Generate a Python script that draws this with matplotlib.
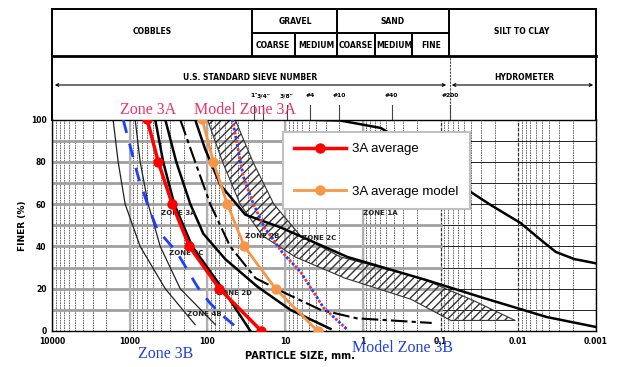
import matplotlib.pyplot as plt
import matplotlib.transforms as mtransforms

# overlaid gradation curves (particle size mm, percent finer)
pct_3a = [100, 80, 60, 40, 20, 0]
size_3a = [596, 430, 284, 171, 70, 20.2]
size_3a_model = [116.5, 84, 55.5, 33.5, 13.3, 3.83]

pct_3b = [100, 73, 59, 48, 37, 21, 13, 7, 1]
size_3b = [1216, 778, 579, 443, 245, 135, 91.8, 62.5, 40]
pct_3b_model = [100, 73, 60, 49, 37, 28, 11, 0.5]
size_3b_model = [47.8, 34.5, 25.6, 18.5, 10.8, 6.35, 3.2, 1.57]

# curves printed on the scanned sheet
pct_thin = [100, 80, 60, 40, 20, 3]
size_thin1 = [1637, 1409, 1145, 734, 349, 144]
size_thin2 = [851, 734, 579, 405, 224, 79]
pct_k1 = [100, 80, 60, 40, 20, 0]
size_k1 = [470, 371, 267, 157, 64, 28]
pct_k2 = [100, 80, 60, 46, 34, 21, 10, 1]
size_k2 = [349, 252, 166, 113, 59, 22.8, 8.55, 2.61]
pct_1b = [100, 86, 69, 55, 49, 35, 24, 16, 6.6, 1.9]
size_1b = [144, 107, 68, 32.5, 11.5, 1.58, 0.15, 0.0303, 0.0043, 0.001]
pct_1a = [100, 99.5, 96, 85, 68.6, 59.6, 51, 43, 37.4, 34, 32]
size_1a = [6.35, 1.94, 0.59, 0.18, 0.054, 0.0227, 0.0093, 0.0051, 0.0033, 0.0019, 0.001]
pct_2d = [100, 80, 60, 40, 25, 19, 10, 6, 3.8]
size_2d = [224, 144, 92, 51, 24, 11.5, 3.5, 1.2, 0.13]
pct_band = [100, 80, 60, 45, 35, 25, 15, 5]
size_band_coarse = [100, 64, 38, 19.5, 7.4, 1.7, 0.24, 0.074]
size_band_fine = [44, 26, 14, 6.35, 1.94, 0.18, 0.041, 0.011]

zone_labels = ['ZONE 3A', 'ZONE 3C', 'ZONE 2B', 'ZONE 2C', 'ZONE 2D', 'ZONE 4B', 'ZONE 1A']
zone_label_size = [240, 190, 19.5, 3.7, 45, 110, 0.6]
zone_label_pct = [56, 37, 45, 44, 18, 8, 56]

sieve_labels = ['1"', '3/4"', '3/8"', '#4', '#10', '#40', '#200']
sieve_size = [25.4, 19.0, 9.5, 4.75, 2.0, 0.425, 0.075]

x_ticks = [10000, 1000, 100, 10, 1, 0.1, 0.01, 0.001]
x_ticklabels = ['10000', '1000', '100', '10', '1', '0.1', '0.01', '0.001']

fig = plt.figure(figsize=(6.17, 3.67), dpi=100)
ax = fig.add_axes([52 / 617, 36 / 367, 544 / 617, 211.5 / 367])
ax.set_xscale('log')
ax.set_xlim(10000, 0.001)
ax.set_ylim(0, 100)

# scanned grid
for d in [1000, 100, 10, 1, 0.1, 0.01, 0.001, 0.0001]:
    for m in range(2, 10):
        ax.axvline(d * m, color='#555555', lw=0.6, ls=(0, (2, 1)), zorder=1)
    ax.axvline(d * 10, color='#333333', lw=0.9, ls=(0, (3, 1)), zorder=1)
for p in range(10, 100, 10):
    ax.axhline(p, color='#222222', lw=0.7, zorder=1)
    ax.plot([10000, 0.1], [p, p], color='#a0a0a0', lw=2.0, zorder=1.5)
for d in [1000, 100, 10, 1]:
    ax.plot([d, d], [0, 100], color='#b0b0b0', lw=1.6, zorder=1.5)

# scanned curves
ax.fill_betweenx(pct_band, size_band_coarse, size_band_fine, facecolor='none',
                 edgecolor='#333333', hatch='////', lw=0.8, zorder=2)
ax.plot(size_thin1, pct_thin, color='#222222', lw=0.9, zorder=2)
ax.plot(size_thin2, pct_thin, color='#222222', lw=0.9, zorder=2)
ax.plot(size_k1, pct_k1, color='black', lw=1.8, zorder=2)
ax.plot(size_k2, pct_k2, color='black', lw=1.8, zorder=2)
ax.plot(size_1b, pct_1b, color='black', lw=1.8, zorder=2)
ax.plot(size_1a, pct_1a, color='black', lw=1.8, zorder=2)
ax.plot(size_2d, pct_2d, color='black', lw=1.5, ls=(0, (8, 2, 2, 2)), zorder=2)
for lab, s, p in zip(zone_labels, zone_label_size, zone_label_pct):
    ax.text(s, p, lab, fontsize=5, fontweight='bold', color='#222222',
            ha='center', va='center', zorder=2.5)

# overlays
ax.plot(size_3b, pct_3b, color='#1f3fff', lw=2, ls=(0, (5, 4)), zorder=3)
ax.plot(size_3b_model, pct_3b_model, color='#1f3fff', lw=2, ls=(0, (1, 2)), zorder=3)
ax.plot(size_3b_model, pct_3b_model, color='#ff3030', lw=2, ls=(1.5, (1, 2)), zorder=3)
ax.plot(size_3a, pct_3a, color='#ff0000', lw=2.5, marker='o', ms=6.5,
        label='3A average', zorder=4)
ax.plot(size_3a_model, pct_3a, color='#f79646', lw=2, marker='o', ms=6.5,
        label='3A average model', zorder=4)

leg = ax.legend(loc='upper left', bbox_to_anchor=(0.4246, 0.941), borderaxespad=0,
                frameon=True, fancybox=False, edgecolor='#c0c0c0', framealpha=1,
                prop={'family': 'Liberation Sans', 'size': 9.5},
                labelspacing=2.3, handlelength=3.9, borderpad=0.85, handletextpad=0.5)
leg.get_frame().set_linewidth(1.5)
leg.set_zorder(5)

ax.set_yticks([0, 20, 40, 60, 80, 100])
ax.set_yticklabels(['0', '20', '40', '60', '80', '100'], fontsize=5.5, fontweight='bold')
ax.set_xticks(x_ticks)
ax.set_xticklabels(x_ticklabels, fontsize=5.5, fontweight='bold')
ax.minorticks_off()
ax.tick_params(length=0, pad=4)
for sp in ax.spines.values():
    sp.set_linewidth(1.0)

# sieve marks above the plot
trans = mtransforms.blended_transform_factory(ax.transData, ax.transAxes)
for lab, s in zip(sieve_labels, sieve_size):
    ax.plot([s, s], [1.0, 1.07], color='#444444', lw=0.8, transform=trans, clip_on=False)
    ax.text(s, 1.1, lab, fontsize=4.3, fontweight='bold', ha='center', va='bottom',
            transform=trans)
ax.plot([0.075, 0.075], [1.0, 1.3], color='#444444', lw=0.8, ls=(0, (2, 1)),
        transform=trans, clip_on=False)

# header table
hd = fig.add_axes([0, 0, 1, 1])
hd.set_xlim(0, 617)
hd.set_ylim(367, 0)
hd.axis('off')
hd.patch.set_alpha(0)
kw = dict(color='black', lw=1.4)
hd.plot([52, 596], [9, 9], **kw)
hd.plot([52, 596], [56, 56], color='black', lw=2)
hd.plot([252, 449], [33, 33], **kw)
hd.plot([52, 52], [9, 120], **kw)
hd.plot([596, 596], [9, 120], **kw)
for xv in [252, 337, 449]:
    hd.plot([xv, xv], [9, 56], **kw)
for xv in [295, 375, 412]:
    hd.plot([xv, xv], [33, 56], **kw)
hd.annotate('', xy=(52, 85), xytext=(449, 85),
            arrowprops=dict(arrowstyle='<->', lw=0.8, mutation_scale=5))
hd.annotate('', xy=(449, 85), xytext=(596, 85),
            arrowprops=dict(arrowstyle='<->', lw=0.8, mutation_scale=5))
tk = dict(fontsize=5.5, fontweight='bold', ha='center', va='center')
hd.text(152, 32, 'COBBLES', **tk)
hd.text(295, 21, 'GRAVEL', **tk)
hd.text(393, 21, 'SAND', **tk)
hd.text(273, 45, 'COARSE', **tk)
hd.text(316, 45, 'MEDIUM', **tk)
hd.text(356, 45, 'COARSE', **tk)
hd.text(394, 45, 'MEDIUM', **tk)
hd.text(431, 45, 'FINE', **tk)
hd.text(522, 32, 'SILT TO CLAY', **tk)
hd.text(250, 77, 'U.S. STANDARD SIEVE NUMBER', **tk)
hd.text(524, 77, 'HYDROMETER', **tk)
hd.text(22, 226, 'FINER (%)', rotation=90, fontsize=6.5, fontweight='bold',
        ha='center', va='center')
hd.text(300, 356, 'PARTICLE SIZE, mm.', fontsize=7, fontweight='bold',
        ha='center', va='center')

lbl = dict(family='Liberation Serif', fontsize=11.5, ha='center', va='center')
hd.text(148, 110, 'Zone 3A', color='#ee3366', **lbl)
hd.text(245, 110, 'Model Zone 3A', color='#ee3366', **lbl)
hd.text(166, 354, 'Zone 3B', color='#2040e0', **lbl)
hd.text(402, 348, 'Model Zone 3B', color='#2040e0', **lbl)

fig.savefig('out.png', dpi=100)
